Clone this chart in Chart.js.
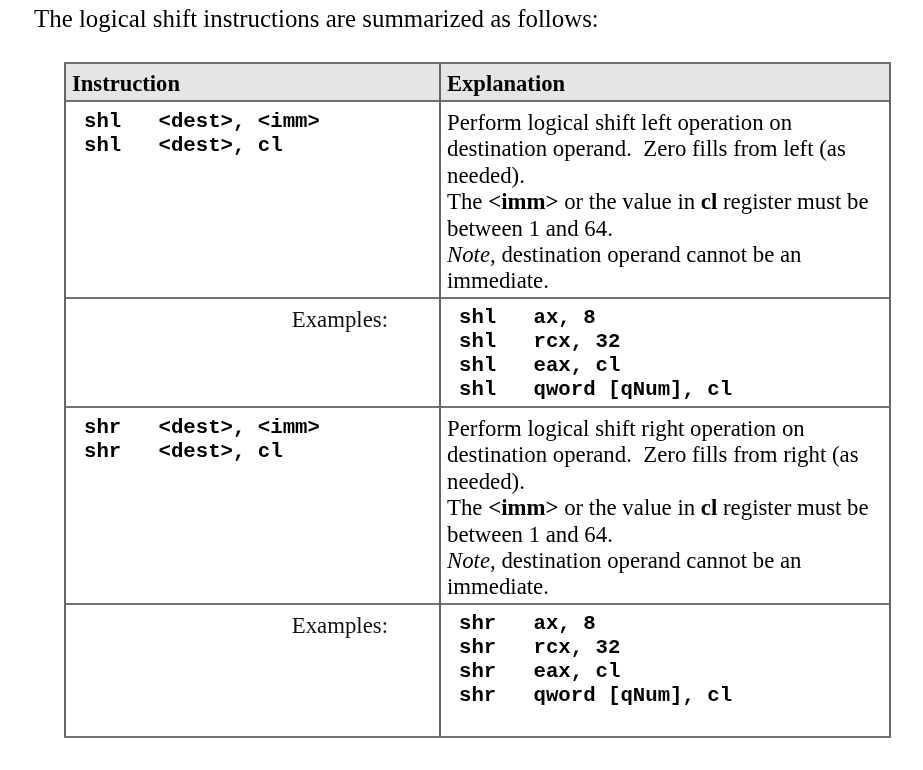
<!DOCTYPE html>
<html>
<head>
<meta charset="utf-8">
<script src="https://cdn.jsdelivr.net/npm/chart.js@4/dist/chart.umd.min.js"></script>
<style>
  html, body { margin: 0; padding: 0; background: #ffffff; }
  #wrap { width: 923px; height: 770px; }
</style>
</head>
<body>
<div id="wrap"><canvas id="c" width="923" height="770"></canvas></div>
<script>
// ---- content ----
const title = 'The logical shift instructions are summarized as follows:';
const headers = ['Instruction', 'Explanation'];
const examplesLabel = 'Examples:';

const shlForms = ['shl   <dest>, <imm>', 'shl   <dest>, cl'];
const shlExplanation = [
  [['Perform logical shift left operation on', 'n']],
  [['destination operand.  Zero fills from left (as', 'n']],
  [['needed).', 'n']],
  [['The ', 'n'], ['<imm>', 'b'], [' or the value in ', 'n'], ['cl', 'b'], [' register must be', 'n']],
  [['between 1 and 64.', 'n']],
  [['Note', 'i'], [', destination operand cannot be an', 'n']],
  [['immediate.', 'n']]
];
const shlExamples = ['shl   ax, 8', 'shl   rcx, 32', 'shl   eax, cl', 'shl   qword [qNum], cl'];

const shrForms = ['shr   <dest>, <imm>', 'shr   <dest>, cl'];
const shrExplanation = [
  [['Perform logical shift right operation on', 'n']],
  [['destination operand.  Zero fills from right (as', 'n']],
  [['needed).', 'n']],
  [['The ', 'n'], ['<imm>', 'b'], [' or the value in ', 'n'], ['cl', 'b'], [' register must be', 'n']],
  [['between 1 and 64.', 'n']],
  [['Note', 'i'], [', destination operand cannot be an', 'n']],
  [['immediate.', 'n']]
];
const shrExamples = ['shr   ax, 8', 'shr   rcx, 32', 'shr   eax, cl', 'shr   qword [qNum], cl'];

// ---- layout (in scale units) ----
const colEdges = [65, 440, 890];
const rowEdges = [63, 101, 298, 407, 604, 737];
const SERIF = '"Liberation Serif", "Times New Roman", serif';
const MONO = '"Liberation Mono", "Courier New", monospace';
const BODY = '22.8px ';

const tablePlugin = {
  id: 'tablePlugin',
  afterDraw(chart) {
    const ctx = chart.ctx;
    const xs = chart.scales.x, ys = chart.scales.y;
    const X = v => xs.getPixelForValue(v);
    const Y = v => ys.getPixelForValue(v);
    ctx.save();

    // title
    ctx.fillStyle = '#000';
    ctx.textBaseline = 'alphabetic';
    ctx.textAlign = 'left';
    ctx.font = '24.9px ' + SERIF;
    ctx.fillText(title, X(34), Y(27));

    // header fill
    ctx.fillStyle = '#e5e5e5';
    ctx.fillRect(X(colEdges[0]), Y(rowEdges[0]), X(colEdges[2]) - X(colEdges[0]), Y(rowEdges[1]) - Y(rowEdges[0]));

    // header text
    ctx.fillStyle = '#000';
    ctx.font = 'bold 22.6px ' + SERIF;
    ctx.fillText(headers[0], X(72), Y(91));
    ctx.fillText(headers[1], X(447), Y(91));

    const drawRich = (segs, x, y) => {
      let cx = x;
      segs.forEach(([t, s]) => {
        ctx.font = (s === 'b' ? 'bold ' : s === 'i' ? 'italic ' : '') + BODY + SERIF;
        ctx.fillText(t, cx, y);
        cx += ctx.measureText(t).width;
      });
    };
    const drawMono = (lines, x, y0, lh) => {
      ctx.font = 'bold 20.7px ' + MONO;
      lines.forEach((t, i) => ctx.fillText(t, X(x), Y(y0 + i * lh)));
    };

    const groups = [
      [shlForms, shlExplanation, shlExamples],
      [shrForms, shrExplanation, shrExamples]
    ];
    groups.forEach(([forms, expl, ex], g) => {
      const top = rowEdges[1 + g * 2];
      const exTop = rowEdges[2 + g * 2];
      ctx.fillStyle = '#000';
      drawMono(forms, 84, top + 26, 24);
      expl.forEach((segs, i) => drawRich(segs, X(447), Y(top + 29 + i * 26.4)));
      // examples
      ctx.font = BODY + SERIF;
      ctx.textAlign = 'right';
      ctx.fillStyle = '#111';
      ctx.fillText(examplesLabel, X(388), Y(exTop + 29));
      ctx.textAlign = 'left';
      ctx.fillStyle = '#000';
      drawMono(ex, 459, exTop + 25, 24);
    });

    // grid lines
    ctx.strokeStyle = '#444';
    ctx.lineWidth = 1.6;
    rowEdges.forEach(r => {
      ctx.beginPath();
      ctx.moveTo(X(colEdges[0]) - 1, Y(r));
      ctx.lineTo(X(colEdges[2]) + 1, Y(r));
      ctx.stroke();
    });
    ctx.strokeStyle = '#666';
    ctx.lineWidth = 2;
    colEdges.forEach(c => {
      ctx.beginPath();
      ctx.moveTo(X(c), Y(rowEdges[0]));
      ctx.lineTo(X(c), Y(rowEdges[rowEdges.length - 1]));
      ctx.stroke();
    });
    ctx.restore();
  }
};

new Chart(document.getElementById('c'), {
  type: 'scatter',
  data: { datasets: [{ data: [], showLine: false }] },
  options: {
    responsive: false,
    animation: false,
    events: [],
    layout: { padding: 0 },
    plugins: { legend: { display: false }, tooltip: { enabled: false }, title: { display: false } },
    scales: {
      x: { type: 'linear', min: 0, max: 923, display: false },
      y: { type: 'linear', min: 0, max: 770, reverse: true, display: false }
    }
  },
  plugins: [tablePlugin]
});
</script>
</body>
</html>
